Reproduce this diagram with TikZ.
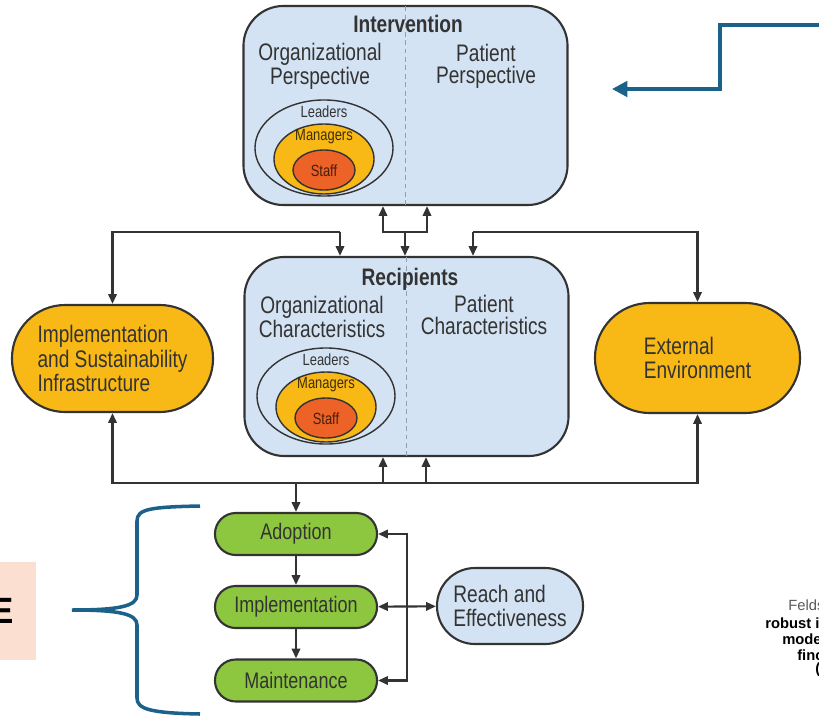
\documentclass[tikz,border=0pt]{standalone}
\usepackage{fontspec}
\setmainfont{Liberation Sans}[FakeStretch=0.8]
\newfontfamily\notefont{Liberation Sans}
\usepackage{tikz}
\usetikzlibrary{arrows.meta}
\usetikzlibrary{calc}

\definecolor{boxblue}{HTML}{D4E3F3}
\definecolor{edgegray}{HTML}{333333}
\definecolor{textgray}{HTML}{333333}
\definecolor{tieryellow}{HTML}{F8B916}
\definecolor{staffred}{HTML}{EC6227}
\definecolor{stagegreen}{HTML}{8DC63F}
\definecolor{callblue}{HTML}{1B6189}
\definecolor{notepink}{HTML}{FBDFD0}
\definecolor{splitgray}{HTML}{8E9FB3}

\newcommand{\headsize}{\fontsize{17}{15.5}\selectfont}
\newcommand{\mainsize}{\fontsize{17}{17.5}\selectfont}
\newcommand{\stagesize}{\fontsize{16}{17}\selectfont}
\newcommand{\tiersize}{\fontsize{11.5}{12}\selectfont}

\tikzset{
  big/.style={draw=edgegray, line width=1.5pt, fill=boxblue, rounded corners=1cm,
    minimum width=8.1cm, minimum height=4.975cm},
  pill/.style={draw=edgegray, line width=1.5pt, rounded corners=#1, font=\mainsize},
  stage/.style={pill=0.52cm, fill=stagegreen, minimum width=4.05cm, minimum height=1.05cm,
    font=\stagesize},
  split/.style={draw=splitgray, line width=0.8pt, dash pattern=on 3.5pt off 2.5pt,
    shorten <=1pt, shorten >=1pt},
  link/.style={draw=edgegray, line width=1.5pt},
  call/.style={draw=callblue, line width=2.6pt, -{Triangle[length=11pt,width=11pt]}},
  head/.style={font=\headsize, align=center, inner sep=0pt},
  title/.style={font=\headsize\bfseries, inner sep=0pt},
  tiertext/.style={font=\tiersize, inner sep=0pt},
  tierline/.style={draw=edgegray, line width=1pt},
  tiers/.pic={
    \draw[tierline, fill=boxblue] (0,0) ellipse [x radius=1.725cm, y radius=1.2cm];
    \draw[tierline, fill=tieryellow] (0,11) ellipse [x radius=1.25cm, y radius=0.875cm];
    \draw[tierline, fill=staffred] (0,22) ellipse [x radius=0.775cm, y radius=0.5cm];
    \node[tiertext] (-lead) at (0,-36) {Leaders};
    \node[tiertext, text=black!75!tieryellow] (-mgr) at (0,-11) {Managers};
    \node[tiertext, text=black!70!staffred] (-staff) at (0,23) {Staff};
  }
}

\begin{document}
\begin{tikzpicture}[x=0.025cm, y=-0.025cm, >={Triangle[length=7pt,width=6pt]}, text=textgray]
            \useasboundingbox (0,0) rectangle (819,716);
            \clip (0,0) rectangle (819,716);

            % the two big boxes
            \node[big] (interv) at (405.5,105.5) {};
            \node[big] (recip) at (406.5,356.5) {};
            \draw[split] (interv.north) -- (interv.south);
            \draw[split] (recip.north) -- (recip.south);
            \pic (ti) at (324,148) {tiers};
            \pic (tr) at (326,396) {tiers};
            \node[title] (intitle) at (408,24) {Intervention};
            \node[head] (inorg) at (320,66) {Organizational\\Perspective};
            \node[head] (inpat) at (486,66) {Patient\\Perspective};
            \node[title] (retitle) at (410,279) {Recipients};
            \node[head] (reorg) at (322,317) {Organizational\\Characteristics};
            \node[head] (repat) at (484,315) {Patient\\Characteristics};

            % side boxes
            \node[pill=1.33cm, fill=tieryellow, minimum width=5.025cm, minimum height=2.675cm, align=left]
                (infra) at (112.5,358.5) {Implementation\\and Sustainability\\Infrastructure};
            \node[pill=1.37cm, fill=tieryellow, minimum width=5.125cm, minimum height=2.75cm, align=left]
                (env) at (697.5,358) {External\\Environment};

            % outcomes
            \node[stage] (adopt) at (296,534) {Adoption};
            \node[stage] (impl) at (296,607) {Implementation};
            \node[stage] (maint) at (296,680.5) {Maintenance};
            \node[pill=0.95cm, fill=boxblue, minimum width=3.65cm, minimum height=1.9cm, align=left]
                (reach) at (510,606) {Reach and\\Effectiveness};

            % upper links
            \coordinate (ua) at (383,232);
            \coordinate (ub) at (427,232);
            \coordinate (jm) at (405,232);
            \coordinate (jl) at (340,232);
            \coordinate (jr) at (473,232);
            \draw[link, <->] (ua |- interv.south) -- (ua) -- (ub) -- (ub |- interv.south);
            \draw[link, ->] (jm) -- (jm |- recip.north);
            \draw[link, ->] (jl) -| (infra.north);
            \draw[link, ->] (jl) -- (jl |- recip.north);
            \draw[link, ->] (jr) -| (env.north);
            \draw[link, ->] (jr) -- (jr |- recip.north);

            % lower links
            \coordinate (bus) at (405,483);
            \coordinate (da) at (383,483);
            \coordinate (db) at (426,483);
            \draw[link, <->] (infra.south) |- (bus) -| (env.south);
            \draw[link, ->] (da) -- (da |- recip.south);
            \draw[link, ->] (db) -- (db |- recip.south);
            \draw[link, ->] (adopt.north |- bus) -- (adopt.north);

            \coordinate (side) at (407,607);
            \draw[link, ->] (adopt) -- (impl);
            \draw[link, ->] (impl) -- (maint);
            \draw[link, <->] (adopt.east) -| (side |- maint.east) -- (maint.east);
            \draw[link, <->] (impl) -- (reach);

            % callout arrow and brace
            \coordinate (callsrc) at (830,25);
            \coordinate (callbend) at (720,89);
            \coordinate (calltip) at (612,89);
            \draw[call] (callsrc) -| (callbend) -- (calltip);
            \draw[callblue, line width=2.5pt] (200,506) .. controls (150,507) and (137,509) .. (137,521)
                -- (137,595) .. controls (137,606) and (120,610) .. (72,610)
                .. controls (120,610) and (137,614) .. (137,625)
                -- (137,698) .. controls (137,709) and (150,713) .. (200,714);

            % cut-off notes
            \fill[notepink] (-5,562) rectangle (36,660);
            \node[anchor=east, inner sep=0pt, text=black, font=\notefont\fontsize{26}{26}\selectfont\bfseries]
                (cut) at (14,611) {E};
            \node[anchor=west, inner sep=0pt, text=black!65, font=\notefont\fontsize{10.5}{12}\selectfont]
                (note1) at (788,605) {Felds};
            \node[anchor=west, inner sep=0pt, text=black, font=\notefont\fontsize{10.5}{12}\selectfont\bfseries]
                (note2) at (765,623) {robust i};
            \node[anchor=west, inner sep=0pt, text=black, font=\notefont\fontsize{10.5}{12}\selectfont\bfseries]
                (note3) at (782,639) {mode};
            \node[anchor=west, inner sep=0pt, text=black, font=\notefont\fontsize{10.5}{12}\selectfont\bfseries]
                (note4) at (797,655) {finc};
            \node[anchor=west, inner sep=0pt, text=black, font=\notefont\fontsize{10.5}{12}\selectfont\bfseries]
                (note5) at (815,670) {(};
        \end{tikzpicture}
\end{document}
